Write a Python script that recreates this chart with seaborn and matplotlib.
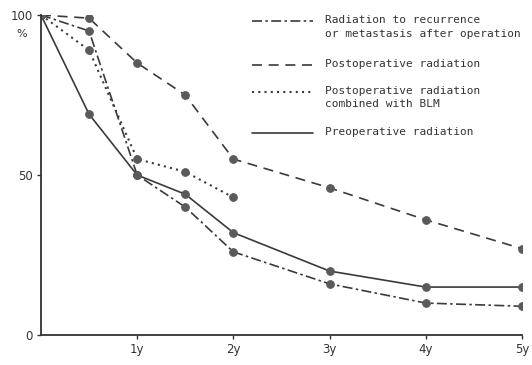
import numpy as np
import pandas as pd
import seaborn as sns
import matplotlib.pyplot as plt
from matplotlib.lines import Line2D

sns.set_style("ticks")
plt.rcParams['font.family'] = ['DejaVu Sans']

# survival (%), years after treatment
years = [0, 0.5, 1, 1.5, 2, 3, 4, 5]
years_blm = [0, 0.5, 1, 1.5, 2]
recurrence = [100, 95, 50, 40, 26, 16, 10, 9]
postop = [100, 99, 85, 75, 55, 46, 36, 27]
postop_blm = [100, 89, 55, 51, 43]
preop = [100, 69, 50, 44, 32, 20, 15, 15]

labels = ['Radiation to recurrence\nor metastasis after operation',
          'Postoperative radiation',
          'Postoperative radiation\ncombined with BLM',
          'Preoperative radiation']
styles = [(0, (6, 2, 1.5, 2)), (0, (6, 4)), (0, (1, 2)), '-']
widths = [1.2, 1.2, 1.5, 1.2]
xtick_labels = ['1y', '2y', '3y', '4y', '5y']

series = [(years, recurrence), (years, postop), (years_blm, postop_blm), (years, preop)]

fig = plt.figure(figsize=(5.32, 3.65), dpi=100)
ax = fig.add_axes([0.077, 0.082, 0.904, 0.877])

line_col = '#3a3a3a'
dot_col = '#5a5a5a'
for (x, y), ls, lw in zip(series, styles, widths):
    sns.lineplot(x=x, y=y, ax=ax, color=line_col, linestyle=ls, linewidth=lw,
                 marker='o', markersize=5.5, markerfacecolor=dot_col,
                 markeredgecolor=dot_col, errorbar=None)

ax.set_xlim(0, 5)
ax.set_ylim(0, 100)
ax.set_xticks([1, 2, 3, 4, 5])
ax.set_xticklabels(xtick_labels, fontsize=8.5, color='#333333')
ax.set_yticks([0, 50, 100])
ax.set_yticklabels(['0', '50', '100'], fontsize=8.5, color='#333333')
ax.tick_params(axis='both', length=3, width=1, color='#333333', pad=3)
ax.set_xlabel('')
ax.set_ylabel('')
for s in ['top', 'right']:
    ax.spines[s].set_visible(False)
for s in ['left', 'bottom']:
    ax.spines[s].set_color('#333333')
    ax.spines[s].set_linewidth(1.3)
ax.text(-0.03, 94, '%', transform=ax.get_yaxis_transform(), ha='right',
        va='center', fontsize=8, color='#333333')

# legend drawn by hand so the sample line sits at the first text line
leg_y = [0.942, 0.822, 0.748, 0.636]
half_line = 0.017
for lab, ls, lw, yy in zip(labels, styles, widths, leg_y):
    fig.add_artist(Line2D([0.474, 0.588], [yy, yy], transform=fig.transFigure,
                          color=line_col, linestyle=ls, linewidth=lw))
    fig.text(0.611, yy + half_line, lab, fontsize=8, family='DejaVu Sans Mono',
             color='#333333', va='top', ha='left', linespacing=1.45)

fig.savefig('out.png', dpi=100, facecolor='white')
